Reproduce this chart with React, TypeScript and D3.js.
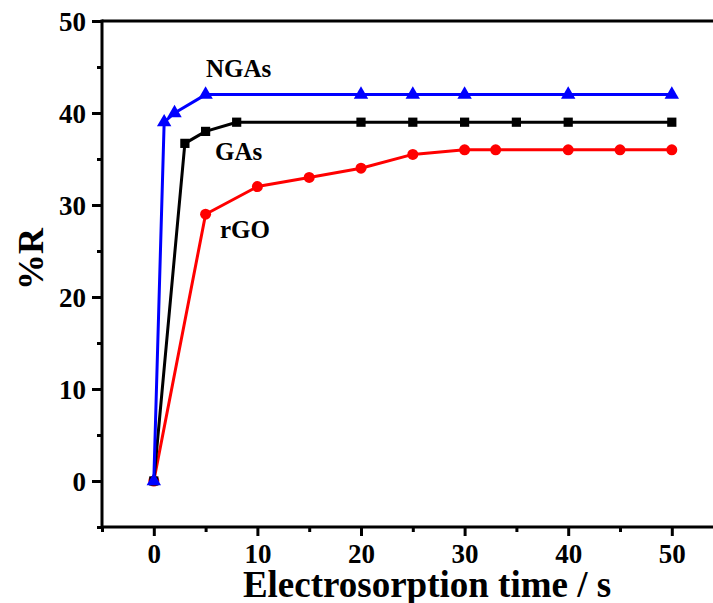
import React, { useEffect, useRef } from "react";
import * as d3 from "d3";

// electrosorption time (s) and %R for each material
const ngaTime = [0, 1, 2, 5, 20, 25, 30, 40, 50];
const ngaR = [0, 39, 40, 42, 42, 42, 42, 42, 42];

const gaTime = [0, 3, 5, 8, 20, 25, 30, 35, 40, 50];
const gaR = [0, 36.7, 38, 39, 39, 39, 39, 39, 39, 39];

const rgoTime = [0, 5, 10, 15, 20, 25, 30, 33, 40, 45, 50];
const rgoR = [0, 29, 32, 33, 34, 35.5, 36, 36, 36, 36, 36];

const xTicks = [0, 10, 20, 30, 40, 50];
const yTicks = [0, 10, 20, 30, 40, 50];

const seriesNames = ["rGO", "GAs", "NGAs"];

const App = () => {
  const svgRef = useRef<SVGSVGElement>(null);

  useEffect(() => {
    const width = 713;
    const height = 603;
    const font = "'Liberation Serif', 'Times New Roman', serif";

    const svg = d3.select(svgRef.current);
    svg.selectAll("*").remove();
    svg.attr("width", width).attr("height", height);

    const x = d3.scaleLinear().domain([-5, 55]).range([102, 723.6]);
    const y = d3.scaleLinear().domain([-5, 50]).range([527, 21]);

    const series = [
      { name: "rGO", color: "#ff0000", shape: d3.symbolCircle, size: 95, t: rgoTime, v: rgoR },
      { name: "GAs", color: "#000000", shape: d3.symbolSquare, size: 85, t: gaTime, v: gaR },
      { name: "NGAs", color: "#0000ff", shape: d3.symbolTriangle, size: 90, t: ngaTime, v: ngaR },
    ];

    const line = d3
      .line<[number, number]>()
      .x((d) => x(d[0]))
      .y((d) => y(d[1]));

    series.forEach((s) => {
      const pts: [number, number][] = s.t.map((t, i) => [t, s.v[i]]);
      svg
        .append("path")
        .attr("d", line(pts))
        .attr("fill", "none")
        .attr("stroke", s.color)
        .attr("stroke-width", 3)
        .attr("stroke-linejoin", "round");
      svg
        .append("g")
        .selectAll("path")
        .data(pts)
        .enter()
        .append("path")
        .attr("transform", (d) => `translate(${x(d[0])},${y(d[1])})`)
        .attr("d", d3.symbol().type(s.shape).size(s.size)())
        .attr("fill", s.color);
    });

    // frame
    const frame = svg.append("g").attr("stroke", "#000").attr("stroke-width", 3);
    frame.append("line").attr("x1", x(-5)).attr("x2", width).attr("y1", y(50)).attr("y2", y(50));
    frame.append("line").attr("x1", x(-5)).attr("x2", width).attr("y1", y(-5)).attr("y2", y(-5));
    frame.append("line").attr("x1", x(-5)).attr("x2", x(-5)).attr("y1", y(50) - 1.5).attr("y2", y(-5) + 1.5);

    // x axis
    const xAxis = svg
      .append("g")
      .attr("transform", `translate(0,${y(-5)})`)
      .call(
        d3
          .axisBottom(x)
          .tickValues(xTicks)
          .tickSize(9)
          .tickFormat(d3.format("d"))
      );
    xAxis.select(".domain").remove();
    xAxis.selectAll("line").attr("stroke-width", 3);
    xAxis
      .selectAll("text")
      .attr("y", 17)
      .attr("dy", "0.71em")
      .attr("font-family", font)
      .attr("font-weight", "bold")
      .attr("font-size", 27);
    svg
      .append("g")
      .attr("transform", `translate(0,${y(-5)})`)
      .call(d3.axisBottom(x).tickValues([-5, 5, 15, 25, 35, 45]).tickSize(5).tickFormat(() => ""))
      .call((g) => g.select(".domain").remove())
      .selectAll("line")
      .attr("stroke-width", 3);

    // y axis
    const yAxis = svg
      .append("g")
      .attr("transform", `translate(${x(-5)},0)`)
      .call(
        d3
          .axisLeft(y)
          .tickValues(yTicks)
          .tickSize(10)
          .tickFormat(d3.format("d"))
      );
    yAxis.select(".domain").remove();
    yAxis.selectAll("line").attr("stroke-width", 3);
    yAxis
      .selectAll("text")
      .attr("x", -16)
      .attr("dy", "0.34em")
      .attr("font-family", font)
      .attr("font-weight", "bold")
      .attr("font-size", 27);
    svg
      .append("g")
      .attr("transform", `translate(${x(-5)},0)`)
      .call(d3.axisLeft(y).tickValues([-5, 5, 15, 25, 35, 45]).tickSize(5).tickFormat(() => ""))
      .call((g) => g.select(".domain").remove())
      .selectAll("line")
      .attr("stroke-width", 3);

    // axis titles
    svg
      .append("text")
      .attr("x", 427)
      .attr("y", 597)
      .attr("text-anchor", "middle")
      .attr("font-family", font)
      .attr("font-weight", "bold")
      .attr("font-size", 37)
      .text("Electrosorption time / s");
    svg
      .append("text")
      .attr("transform", "translate(43,259) rotate(-90)")
      .attr("text-anchor", "middle")
      .attr("font-family", font)
      .attr("font-weight", "bold")
      .attr("font-size", 36)
      .text("%R");

    // series labels
    const labelPos: Record<string, [number, number]> = {
      NGAs: [206, 77],
      GAs: [215, 160],
      rGO: [220, 238],
    };
    seriesNames.forEach((n) => {
      svg
        .append("text")
        .attr("x", labelPos[n][0])
        .attr("y", labelPos[n][1])
        .attr("font-family", font)
        .attr("font-weight", "bold")
        .attr("font-size", 25)
        .text(n);
    });
  }, []);

  return <svg ref={svgRef} style={{ position: "absolute", left: 0, top: 0 }}></svg>;
};

export default App;
